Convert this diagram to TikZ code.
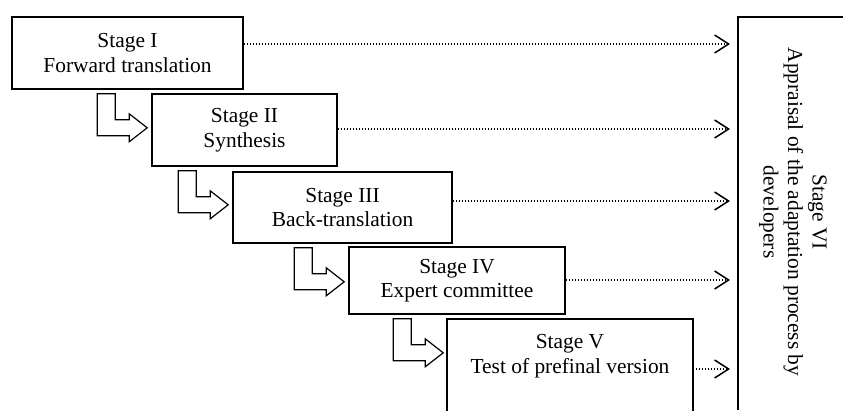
\documentclass[tikz,border=0pt]{standalone}
\usepackage{fontspec}
\setmainfont{Liberation Serif}
\usetikzlibrary{calc,arrows.meta}
\tikzset{
	stagebox/.style={draw, line width=1.6pt, inner sep=0pt, align=center, font=\fontsize{21.4}{24.5}\selectfont},
	blockarrow/.style={draw, line width=1.2pt, line join=miter},
	feedline/.style={line width=1.2pt, dash pattern=on 1.2pt off 1.8pt, -{Straight Barb[length=14pt,width=18pt,line width=1.5pt]}}
}
\def\steparrow(#1){\draw[blockarrow] (#1) -- ++(18,0) -- ++(0,26) -- ++(14,0) -- ++(0,-6) -- ++(18,14) -- ++(-18,14) -- ++(0,-6) -- ++(-32,0) -- cycle;}

\begin{document}
\begin{tikzpicture}[x=1pt, y=-1pt]
			%%%%% START %%%%%
			\useasboundingbox (0,0) rectangle (843,410);
			
			\node[stagebox, minimum width=231pt, minimum height=72pt] (b1) at (127.5,53) {Stage I\\Forward translation};
			\node[stagebox, minimum width=185pt, minimum height=72pt] (b2) at (244.5,130) {Stage II\\Synthesis};
			\node[stagebox, minimum width=219pt, minimum height=71pt] (b3) at (342.5,207.5) {Stage III\\Back-translation};
			\node[stagebox, minimum width=216pt, minimum height=67pt] (b4) at (457,280.5) {Stage IV\\Expert committee};
			
			% last box runs off the page
			\node[stagebox, draw=none, minimum width=244pt, minimum height=90pt] (b5) at (570,365) {};
			\node[stagebox, draw=none] (b5t) at (570,356) {Stage V\\Test of prefinal version};
			\draw[line width=1.6pt] (b5.south west) -- (b5.north west) -- (b5.north east) -- (b5.south east);
			
			\draw[line width=1.6pt] (738,410) -- (738,17) -- (843,17);
			\node[stagebox, draw=none, rotate=-90] (b6) at (793,212) {Stage VI\\Appraisal of the adaptation process by\\developers};
			
			\coordinate (a1) at ($(b2.west |- b1.south)+(-54,4)$);
			\coordinate (a2) at ($(b3.west |- b2.south)+(-54,4)$);
			\coordinate (a3) at ($(b4.west |- b3.south)+(-54,4)$);
			\coordinate (a4) at ($(b5.west |- b4.south)+(-54,4)$);
			\steparrow(a1)
			\steparrow(a2)
			\steparrow(a3)
			\steparrow(a4)
			
			\coordinate (sixin) at (730,17);
			\coordinate (f1) at ([yshift=9pt]b1.east);
			\coordinate (f2) at ([yshift=1pt]b2.east);
			\coordinate (f3) at ([yshift=6.5pt]b3.east);
			\coordinate (f4) at ([yshift=0.5pt]b4.east);
			\coordinate (f5) at ([yshift=-4pt]b5.east);
			\draw[feedline] (f1) -- (f1 -| sixin);
			\draw[feedline] (f2) -- (f2 -| sixin);
			\draw[feedline] (f3) -- (f3 -| sixin);
			\draw[feedline] (f4) -- (f4 -| sixin);
			\draw[feedline] (f5) -- (f5 -| sixin);
			
			%%%%% END %%%%%
\end{tikzpicture}
\end{document}
